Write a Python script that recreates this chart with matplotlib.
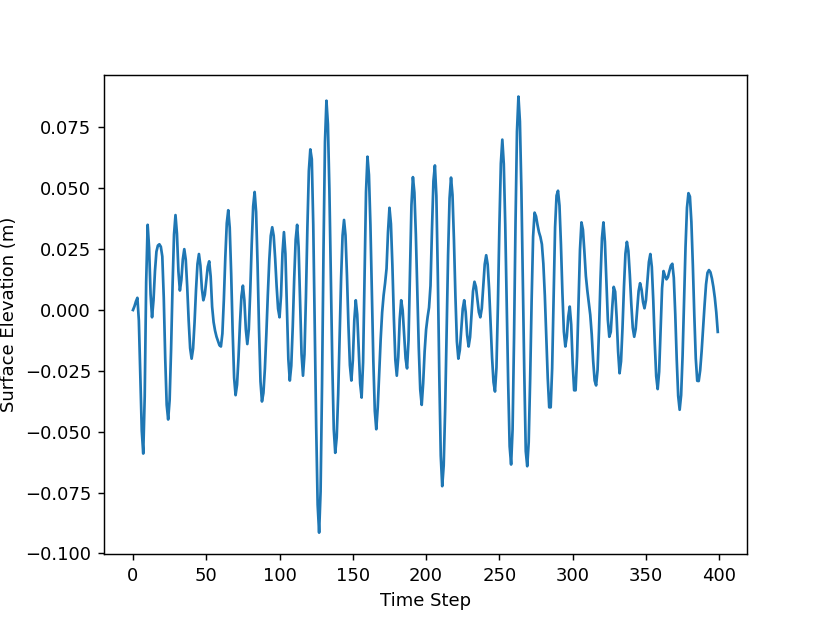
import numpy as np
import matplotlib
matplotlib.use("Agg")
import matplotlib.pyplot as plt

# surface elevation per time step (m)
elevation = [
    0.000, 0.0015, 0.0035, 0.005, -0.0043, -0.027, -0.0497, -0.059, -0.0355, 0.0115,    # 0
    0.035, 0.0255, 0.0065, -0.003, 0.004, 0.016, 0.024, 0.0265, 0.027, 0.026,           # 10
    0.022, 0.005, -0.020, -0.039, -0.045, -0.037, -0.016, 0.010, 0.031, 0.039,          # 20
    0.0313, 0.0158, 0.008, 0.0123, 0.0208, 0.025, 0.0207, 0.0095, -0.0045, -0.0157,     # 30
    -0.020, -0.0159, -0.0052, 0.0082, 0.0189, 0.023, 0.0183, 0.0088, 0.004, 0.0063,     # 40
    0.012, 0.0177, 0.020, 0.0138, 0.0013, -0.005, -0.0085, -0.011, -0.0128, -0.0145,    # 50
    -0.015, -0.0097, 0.0043, 0.0217, 0.0357, 0.041, 0.0338, 0.0148, -0.0088, -0.0278,   # 60
    -0.035, -0.0307, -0.0195, -0.0055, 0.0057, 0.010, 0.004, -0.008, -0.014, -0.0081,   # 70
    0.0076, 0.0269, 0.0426, 0.0485, 0.0403, 0.0188, -0.0079, -0.0294, -0.0376, -0.0341, # 80
    -0.0241, -0.0098, 0.0062, 0.0205, 0.0305, 0.034, 0.0305, 0.0212, 0.0098, 0.0005,    # 90
    -0.003, 0.0058, 0.0233, 0.032, 0.0231, 0.0015, -0.0201, -0.029, -0.0229, -0.0069,   # 100
    0.0129, 0.0289, 0.035, 0.0259, 0.004, -0.018, -0.027, -0.0182, 0.0051, 0.0339,      # 110
    0.0572, 0.066, 0.062, 0.035, -0.005, -0.048, -0.080, -0.0915, -0.0746, -0.0303,     # 120
    0.0248, 0.0691, 0.086, 0.0763, 0.0498, 0.0136, -0.0225, -0.049, -0.0587, -0.0523,   # 130
    -0.0348, -0.0108, 0.0131, 0.0306, 0.037, 0.0307, 0.0142, -0.0062, -0.0227, -0.029,  # 140
    -0.0207, -0.0043, 0.004, -0.0018, -0.016, -0.0302, -0.036, -0.0215, 0.0135, 0.0485, # 150
    0.063, 0.0555, 0.035, 0.007, -0.021, -0.0415, -0.049, -0.040, -0.026, -0.012,       # 160
    -0.001, 0.006, 0.011, 0.017, 0.032, 0.042, 0.0354, 0.0182, -0.0032, -0.0204,        # 170
    -0.027, -0.0193, -0.0038, 0.004, -0.0001, -0.010, -0.0199, -0.024, -0.0125, 0.0153, # 180
    0.0431, 0.0546, 0.0483, 0.031, 0.0078, -0.0156, -0.0327, -0.039, -0.030, -0.017,    # 190
    -0.008, -0.003, 0.001, 0.010, 0.033, 0.053, 0.0594, 0.0469, 0.0139, -0.0269,        # 200
    -0.0599, -0.0724, -0.0639, -0.0407, -0.009, 0.0227, 0.0459, 0.0544, 0.0473, 0.0287, # 210
    0.0057, -0.0129, -0.020, -0.0165, -0.008, 0.0005, 0.004, -0.0008, -0.0103, -0.015,  # 220
    -0.0111, -0.0017, 0.0077, 0.0116, 0.0095, 0.0043, -0.0009, -0.003, 0.0007, 0.0098,  # 230
    0.0188, 0.0225, 0.0187, 0.0085, -0.0055, -0.0195, -0.0297, -0.0335, -0.0237, 0.0022,  # 240
    0.0343, 0.0602, 0.070, 0.060, 0.035, 0.002, -0.030, -0.056, -0.0635, -0.0491,       # 250
    -0.0113, 0.0355, 0.0733, 0.0877, 0.0775, 0.0497, 0.0117, -0.0262, -0.058, -0.0642,  # 260
    -0.0543, -0.0282, 0.004, 0.0301, 0.040, 0.0385, 0.035, 0.032, 0.030, 0.027,         # 270
    0.019, 0.006, -0.011, -0.028, -0.040, -0.040, -0.024, 0.005, 0.034, 0.047,          # 280
    0.049, 0.0429, 0.0269, 0.0071, -0.0089, -0.015, -0.0109, -0.0027, 0.0014, -0.006,   # 290
    -0.022, -0.033, -0.033, -0.019, 0.0032, 0.0248, 0.036, 0.033, 0.024, 0.014,         # 300
    0.008, 0.003, -0.002, -0.010, -0.021, -0.029, -0.031, -0.0246, -0.0079, 0.0129,     # 310
    0.0296, 0.036, 0.028, 0.012, -0.004, -0.011, -0.009, 0.001, 0.0095, 0.0075,         # 320
    -0.003, -0.017, -0.026, -0.0211, -0.0074, 0.0094, 0.0231, 0.028, 0.0243, 0.0145,    # 330
    0.0025, -0.0073, -0.011, -0.0078, 0.000, 0.0078, 0.011, 0.0084, 0.0033, 0.0007,     # 340
    0.004, 0.0119, 0.0197, 0.023, 0.0177, 0.0039, -0.0134, -0.0272, -0.0325, -0.0254,   # 350
    -0.0083, 0.0089, 0.016, 0.014, 0.0126, 0.0135, 0.016, 0.0182, 0.019, 0.0133,        # 360
    -0.0017, -0.0203, -0.0353, -0.041, -0.035, -0.0188, 0.0035, 0.0258, 0.042, 0.048,   # 370
    0.0466, 0.0362, 0.0184, -0.0022, -0.0199, -0.0291, -0.0292, -0.0248, -0.0169, -0.0073,  # 380
    0.002, 0.0105, 0.0153, 0.0164, 0.0155, 0.013, 0.0095, 0.005, -0.001, -0.009,        # 390
]
time_step = np.arange(len(elevation))

# default 6.4x4.8 look, rendered at 130 dpi -> 830x623
fig, ax = plt.subplots(figsize=(830 / 130, 623 / 130), dpi=130)
ax.plot(time_step, elevation, color="#1f77b4", linewidth=1.5)
ax.set_xlabel("Time Step")
ax.set_ylabel("Surface Elevation (m)")
ax.set_xticks([0, 50, 100, 150, 200, 250, 300, 350, 400])
ax.set_yticks([-0.100, -0.075, -0.050, -0.025, 0.000, 0.025, 0.050, 0.075])

fig.savefig("out.png", dpi=130)
